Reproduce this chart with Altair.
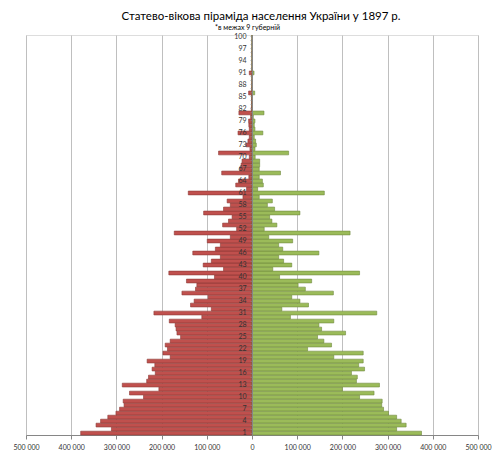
import altair as alt
import pandas as pd

ages = list(range(1, 101))
male = [379000, 311000, 345000, 335000, 319000, 301000, 293000, 283000, 285000, 240000,
        271000, 206000, 287000, 233000, 229000, 214000, 221000, 215000, 232000, 181000,
        197000, 187000, 192000, 181000, 158000, 166000, 168000, 170000, 183000, 111000,
        217000, 90000, 136000, 128000, 97000, 155000, 125000, 122000, 145000, 83000,
        184000, 63000, 108000, 90000, 70000, 131000, 81000, 70000, 99000, 48000,
        172000, 34000, 65000, 52000, 44000, 107000, 63000, 48000, 55000, 20000,
        141000, 12000, 36000, 30000, 7000, 67000, 27000, 24000, 22000, 6000,
        74000, 4500, 13000, 9000, 6000, 31000, 6000, 7000, 7500, 3000,
        29000, 1500, 1000, 1000, 1000, 7500, 800, 600, 500, 400,
        6000, 300, 200, 200, 150, 400, 100, 100, 80, 100]
female = [375000, 320000, 341000, 330000, 320000, 302000, 291000, 287000, 288000, 238000,
          270000, 200000, 282000, 231000, 233000, 220000, 249000, 236000, 246000, 181000,
          246000, 123000, 176000, 159000, 145000, 207000, 154000, 148000, 181000, 85000,
          276000, 66000, 125000, 106000, 88000, 180000, 118000, 102000, 132000, 61000,
          238000, 46000, 88000, 70000, 59000, 148000, 68000, 59000, 90000, 37000,
          217000, 27000, 55000, 44000, 39000, 106000, 50000, 34000, 45000, 16000,
          160000, 12500, 25000, 23000, 16000, 63000, 16000, 17000, 17000, 7000,
          81000, 6500, 9500, 8000, 5000, 24000, 6500, 5000, 6500, 3000,
          26500, 1000, 800, 800, 700, 6000, 600, 500, 400, 300,
          4500, 200, 150, 150, 100, 300, 80, 60, 50, 80]
x_ticks = list(range(-500000, 500001, 100000))
sexes = ["Чоловіки", "Жінки"]
fills = ["#C0504D", "#9BBB59"]
strokes = ["#8C3A37", "#71893F"]

rows = []
for a, m, f in zip(ages, male, female):
    rows.append({"age": a, "sex": sexes[0], "value": -m})
    rows.append({"age": a, "sex": sexes[1], "value": f})
df = pd.DataFrame(rows)

chart = alt.Chart(df).mark_bar(strokeWidth=0.6).encode(
    y=alt.Y("age:O", sort="descending",
            scale=alt.Scale(paddingInner=0.05, paddingOuter=0),
            axis=alt.Axis(offset=-226, labelFontSize=7,
                          labelExpr="(datum.value - 1) % 3 == 0 ? datum.label : ''",
                          labelFont="Lato", labelColor="#333333",
                          title="*в межах 9 губерній", titleAngle=0,
                          titleX=-5, titleY=-8, titleAlign="center",
                          titleBaseline="middle", titleFontSize=7,
                          titleFont="Lato", titleFontWeight="normal",
                          titleColor="#000000",
                          zindex=1, domainColor="#868686", tickColor="#868686",
                          tickSize=2, tickWidth=0.6, labelPadding=4,
                          labelOverlap=False, labelBound=False)),
    x=alt.X("value:Q",
            scale=alt.Scale(domain=[-500000, 500000], nice=False, zero=False),
            axis=alt.Axis(values=x_ticks,
                          labelExpr="replace(format(abs(datum.value), ','), ',', ' ')",
                          grid=True, gridColor="#BFBFBF", gridWidth=1, title=None,
                          labelFontSize=7, labelFont="Lato", labelColor="#333333",
                          domainColor="#868686", tickColor="#868686", tickSize=4,
                          labelPadding=4, labelFlush=False, labelOverlap=False)),
    color=alt.Color("sex:N", scale=alt.Scale(domain=sexes, range=fills), legend=None),
    stroke=alt.Stroke("sex:N", scale=alt.Scale(domain=sexes, range=strokes), legend=None),
).properties(
    width=452,
    height=400,
    autosize=alt.AutoSizeParams(type="none"),
    padding={"left": 18, "top": 27, "right": 14, "bottom": 17},
    title=alt.TitleParams(
        text="Статево-вікова піраміда населення України у 1897 р.",
        font="Lato", fontSize=11.5, fontWeight="normal", color="#000000",
        anchor="middle", frame="group", dx=9, offset=1,
    ),
).configure_view(stroke=None).configure(background="white")

chart.save("out.html", embed_options={"renderer": "svg", "actions": False})
